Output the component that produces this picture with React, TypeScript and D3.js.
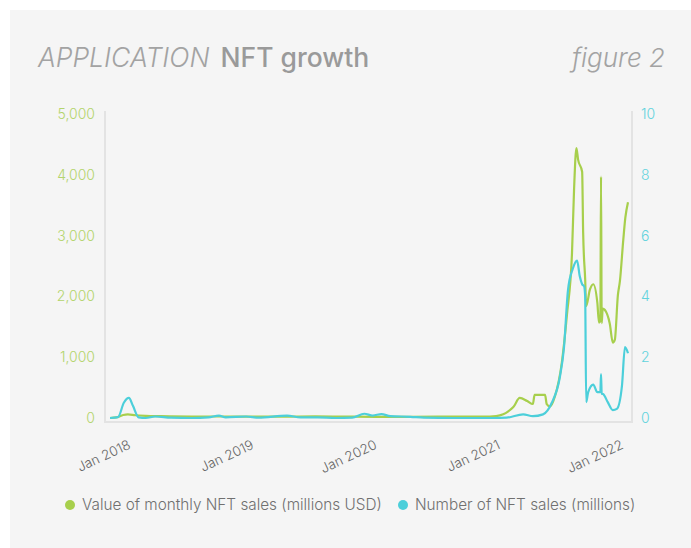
import React, { useEffect, useRef } from 'react';
import * as d3 from 'd3';

// value of monthly NFT sales (millions USD)
const valueDates = [
  '2017-11-01', '2017-11-20', '2017-12-10', '2017-12-24', '2018-01-15', '2018-02-15', '2018-04-01',
  '2018-07-01', '2018-10-01', '2019-01-01', '2019-04-01', '2019-07-01', '2019-10-01', '2020-01-01',
  '2020-04-01', '2020-07-01', '2020-10-01', '2020-12-01', '2020-12-20', '2021-01-10', '2021-01-25',
  '2021-02-09', '2021-02-28', '2021-03-22', '2021-04-08', '2021-04-13', '2021-05-14', '2021-05-19',
  '2021-05-29', '2021-06-12', '2021-07-03', '2021-07-18', '2021-08-02', '2021-08-08', '2021-08-15',
  '2021-08-20', '2021-09-01', '2021-09-04', '2021-09-10', '2021-09-13', '2021-09-24', '2021-10-04',
  '2021-10-16', '2021-10-21', '2021-10-25', '2021-10-27', '2021-10-29', '2021-11-01', '2021-11-07',
  '2021-11-22', '2021-12-01', '2021-12-07', '2021-12-16', '2021-12-22', '2022-01-01', '2022-01-07',
  '2022-01-15'
];
const valueSales = [
  0, 10, 50, 60, 45, 35, 30,
  25, 25, 22, 22, 28, 22, 20,
  20, 22, 25, 25, 30, 60, 110,
  180, 330, 280, 230, 380, 380, 230,
  190, 350, 920, 1700, 2720, 3750, 4440,
  4250, 4050, 3050, 2280, 1840, 2110, 2200,
  1900, 1570, 1600, 3970, 1560, 1800, 1780,
  1550, 1240, 1290, 2020, 2250, 2930, 3290,
  3550
];

// number of NFT sales (millions)
const countDates = [
  '2017-11-01', '2017-11-25', '2017-12-12', '2017-12-27', '2018-01-08', '2018-01-25', '2018-02-15',
  '2018-03-15', '2018-05-01', '2018-07-01', '2018-08-20', '2018-09-20', '2018-10-10', '2018-12-10',
  '2019-01-15', '2019-04-10', '2019-05-20', '2019-07-10', '2019-09-01', '2019-10-20', '2019-11-25',
  '2019-12-20', '2020-01-15', '2020-02-10', '2020-04-10', '2020-05-20', '2020-08-15', '2020-12-10',
  '2021-01-20', '2021-03-10', '2021-04-08', '2021-05-08', '2021-06-03', '2021-06-27', '2021-07-09',
  '2021-07-21', '2021-08-04', '2021-08-17', '2021-08-25', '2021-09-01', '2021-09-07', '2021-09-10',
  '2021-09-13', '2021-09-19', '2021-10-04', '2021-10-16', '2021-10-25', '2021-10-27', '2021-10-29',
  '2021-11-02', '2021-11-16', '2021-12-01', '2021-12-13', '2021-12-28', '2022-01-06', '2022-01-15'
];
const countSales = [
  0, 0.03, 0.5, 0.66, 0.4, 0.02, 0,
  0.05, 0.01, 0, 0.02, 0.08, 0.02, 0.05,
  0.01, 0.08, 0.02, 0.02, 0, 0.01, 0.14,
  0.08, 0.13, 0.06, 0.04, 0.01, 0, 0,
  0.01, 0.12, 0.06, 0.12, 0.5, 1.35, 2.3,
  4.2, 4.9, 5.18, 4.66, 4.4, 4.33, 4.0,
  0.52, 0.85, 1.1, 0.85, 0.85, 1.44, 0.8,
  0.79, 0.52, 0.26, 0.3, 1.05, 2.33, 2.13
];

const leftTicks = [0, 1000, 2000, 3000, 4000, 5000];
const rightTicks = [0, 2, 4, 6, 8, 10];
const yearTicks = ['2018-01-01', '2019-01-01', '2020-01-01', '2021-01-01', '2022-01-01'];

const seriesNames = ['Value of monthly NFT sales (millions USD)', 'Number of NFT sales (millions)'];
const GREEN = '#a7cf4c';
const BLUE = '#4ccfda';

const App: React.FC = () => {
  const svgRef = useRef<SVGSVGElement>(null);

  useEffect(() => {
    if (!svgRef.current) return;
    const parse = d3.timeParse('%Y-%m-%d');
    const W = 691, H = 548;
    const svg = d3.select(svgRef.current);
    svg.selectAll('*').remove();
    svg.attr('width', W).attr('height', H);

    svg.append('rect')
      .attr('x', 10).attr('y', 10)
      .attr('width', W - 10).attr('height', H - 10)
      .attr('fill', '#f5f5f5');

    const font = 'Inter, "Open Sans", sans-serif';

    // title
    const title = svg.append('text')
      .attr('x', 38).attr('y', 67)
      .attr('font-family', font)
      .attr('font-size', 26.5)
      .attr('fill', '#a3a3a3');
    title.append('tspan').attr('font-style', 'italic').attr('font-weight', 300).text('APPLICATION');
    title.append('tspan').attr('dx', 11).attr('font-weight', 500).attr('fill', '#9a9a9a').text('NFT growth');

    svg.append('text')
      .attr('x', 665).attr('y', 67)
      .attr('text-anchor', 'end')
      .attr('font-family', font)
      .attr('font-size', 26)
      .attr('font-style', 'italic')
      .attr('font-weight', 300)
      .attr('fill', '#a3a3a3')
      .text('figure 2');

    const valueData = valueDates.map((d, i) => ({ date: parse(d) as Date, v: valueSales[i] }));
    const countData = countDates.map((d, i) => ({ date: parse(d) as Date, v: countSales[i] }));

    const x = d3.scaleTime()
      .domain([parse('2017-11-01') as Date, parse('2022-01-15') as Date])
      .range([110, 628]);
    const yL = d3.scaleLinear().domain([0, 5000]).range([418, 114]);
    const yR = d3.scaleLinear().domain([0, 10]).range([418, 114]);

    // axis frame
    const frame = svg.append('g').attr('stroke', '#e3e3e3').attr('stroke-width', 2);
    frame.append('line').attr('x1', 105).attr('x2', 105).attr('y1', 111).attr('y2', 423);
    frame.append('line').attr('x1', 632).attr('x2', 632).attr('y1', 111).attr('y2', 423);
    frame.append('line').attr('x1', 104).attr('x2', 633).attr('y1', 422).attr('y2', 422);

    svg.append('g')
      .selectAll('text')
      .data(leftTicks)
      .enter()
      .append('text')
      .attr('x', 95)
      .attr('y', d => yL(d))
      .attr('dy', '0.35em')
      .attr('text-anchor', 'end')
      .attr('font-family', font)
      .attr('font-size', 14)
      .attr('font-weight', 300)
      .attr('fill', '#b3d46c')
      .text(d => d3.format(',')(d));

    svg.append('g')
      .selectAll('text')
      .data(rightTicks)
      .enter()
      .append('text')
      .attr('x', 641)
      .attr('y', d => yR(d))
      .attr('dy', '0.35em')
      .attr('font-family', font)
      .attr('font-size', 14)
      .attr('font-weight', 300)
      .attr('fill', '#62d3dd')
      .text(d => d);

    svg.append('g')
      .selectAll('text')
      .data(yearTicks)
      .enter()
      .append('text')
      .attr('transform', d => `translate(${x(parse(d) as Date) + 1},448) rotate(-25)`)
      .attr('text-anchor', 'end')
      .attr('font-family', font)
      .attr('font-size', 13.5)
      .attr('font-weight', 300)
      .attr('fill', '#666')
      .text(d => d3.timeFormat('%b %Y')(parse(d) as Date));

    const valueLine = d3.line<{ date: Date; v: number }>()
      .x(d => x(d.date))
      .y(d => yL(d.v))
      .curve(d3.curveMonotoneX);
    const countLine = d3.line<{ date: Date; v: number }>()
      .x(d => x(d.date))
      .y(d => yR(d.v))
      .curve(d3.curveMonotoneX);

    svg.append('path')
      .datum(valueData)
      .attr('fill', 'none')
      .attr('stroke', GREEN)
      .attr('stroke-width', 2.2)
      .attr('stroke-linejoin', 'round')
      .attr('d', valueLine);

    svg.append('path')
      .datum(countData)
      .attr('fill', 'none')
      .attr('stroke', BLUE)
      .attr('stroke-width', 2.2)
      .attr('stroke-linejoin', 'round')
      .attr('d', countLine);

    // legend
    const legendX = [70, 403];
    const colors = [GREEN, BLUE];
    seriesNames.forEach((name, i) => {
      svg.append('circle')
        .attr('cx', legendX[i]).attr('cy', 505).attr('r', 5)
        .attr('fill', colors[i]);
      svg.append('text')
        .attr('x', legendX[i] + 12).attr('y', 505)
        .attr('dy', '0.35em')
        .attr('font-family', font)
        .attr('font-size', 15.3)
        .attr('font-weight', 300)
        .attr('fill', '#707070')
        .text(name);
    });
  }, []);

  return (
    <div style={{ position: 'absolute', left: 0, top: 0 }}>
      <svg ref={svgRef}></svg>
    </div>
  );
};

export default App;
